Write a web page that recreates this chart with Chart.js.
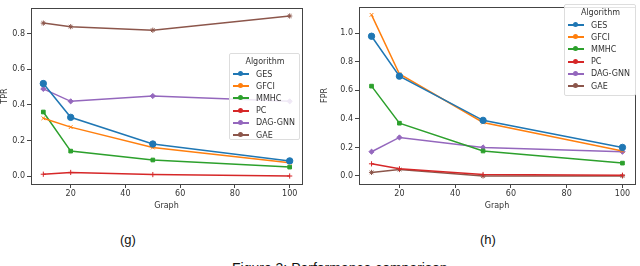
<!DOCTYPE html>
<html>
<head>
<meta charset="utf-8">
<script src="https://cdn.jsdelivr.net/npm/chart.js@4.4.0/dist/chart.umd.min.js"></script>
<style>
  body { margin: 0; width: 640px; height: 266px; background: #fff; overflow: hidden; position: relative; font-family: "DejaVu Sans", sans-serif; }
  .wrap { position: absolute; top: 0; width: 320px; height: 215px; }
  .legend { position: absolute; border: 1px solid #ddd; border-radius: 2px; background: rgba(255,255,255,0.85); font-size: 8px; color: #333; padding: 2px 2px 2px 3px; box-sizing: border-box; white-space: nowrap; }
  .legend .title { text-align: center; margin-bottom: 1px; line-height: 11px; }
  .legend .row { display: flex; align-items: center; height: 12.2px; }
  .legend .sw { position: relative; width: 16px; height: 2px; margin-right: 7px; flex: none; }
  .legend .sw i { position: absolute; left: 5px; top: -2px; width: 5px; height: 5px; border-radius: 50%; }
  .cap { position: absolute; font-family: "Liberation Sans", Arial, sans-serif; font-size: 13px; color: #111; white-space: nowrap; }
</style>
</head>
<body>
<div class="wrap" style="left:0"><canvas id="tpr"></canvas></div>
<div class="wrap" style="left:320px"><canvas id="fpr"></canvas></div>
<div class="legend" id="legTpr" style="left:229px; top:53px; width:71px; height:87px;"></div>
<div class="legend" id="legFpr" style="left:564px; top:4px; width:72px; height:92px;"></div>
<div class="cap" style="left:120px; top:232px;">(g)</div>
<div class="cap" style="left:480px; top:232px;">(h)</div>
<div class="cap" style="left:232px; top:260px; font-size:14px;">Figure 3: Performance comparison</div>
<script>
const graphs = [10, 20, 50, 100];
const algorithms = ["GES", "GFCI", "MMHC", "PC", "DAG-GNN", "GAE"];
const colors = ["#1f77b4", "#ff7f0e", "#2ca02c", "#d62728", "#9467bd", "#8c564b"];
const markers = ["circle", "crossRot", "rect", "cross", "rectRot", "star"];

// TPR (g)
const tprGES = [0.52, 0.33, 0.18, 0.085];
const tprGFCI = [0.325, 0.275, 0.16, 0.075];
const tprMMHC = [0.36, 0.14, 0.09, 0.05];
const tprPC = [0.01, 0.02, 0.008, 0.0];
const tprDAGGNN = [0.49, 0.42, 0.45, 0.42];
const tprGAE = [0.86, 0.84, 0.82, 0.90];

// FPR (h)
const fprGES = [0.98, 0.70, 0.39, 0.20];
const fprGFCI = [1.13, 0.715, 0.375, 0.175];
const fprMMHC = [0.63, 0.37, 0.175, 0.09];
const fprPC = [0.085, 0.05, 0.01, 0.005];
const fprDAGGNN = [0.17, 0.27, 0.20, 0.17];
const fprGAE = [0.025, 0.045, 0.0, 0.0];

const xTicks = [20, 40, 60, 80, 100];
const tprTicks = [0.0, 0.2, 0.4, 0.6, 0.8];
const fprTicks = [0.0, 0.2, 0.4, 0.6, 0.8, 1.0];

const frame = {
    id: "frame",
    afterDraw(chart) {
        const a = chart.chartArea;
        const ctx = chart.ctx;
        ctx.save();
        ctx.strokeStyle = "#444";
        ctx.lineWidth = 1;
        ctx.strokeRect(Math.round(a.left) + 0.5, Math.round(a.top) + 0.5, Math.round(a.right - a.left), Math.round(a.bottom - a.top));
        ctx.restore();
    },
};

function makeChart(id, series, yLabel, yMin, yMax, yTicks, pad) {
    const datasets = series.map((vals, i) => ({
        label: algorithms[i],
        data: graphs.map((g, j) => ({ x: g, y: vals[j] })),
        borderColor: colors[i],
        backgroundColor: colors[i],
        borderWidth: 1.5,
        pointStyle: markers[i],
        pointRadius: i === 0 ? 3.2 : 2.6,
        pointBorderWidth: 1,
        tension: 0,
    }));

    new Chart(document.getElementById(id), {
        type: "line",
        data: { datasets },
        plugins: [frame],
        options: {
            responsive: false,
            animation: false,
            devicePixelRatio: 1,
            layout: { padding: pad },
            plugins: { legend: { display: false }, tooltip: { enabled: false } },
            scales: {
                x: {
                    type: "linear",
                    min: 5.5,
                    max: 104.5,
                    afterBuildTicks: (s) => { s.ticks = xTicks.map((v) => ({ value: v })); },
                    afterFit: (s) => { s.height = 31; },
                    grid: { drawOnChartArea: false, tickLength: 4, color: "#444" },
                    border: { display: false },
                    ticks: { color: "#333", font: { size: 8, family: "DejaVu Sans" }, padding: 1, maxRotation: 0 },
                    title: { display: true, text: "Graph", color: "#333", font: { size: 8, family: "DejaVu Sans" }, padding: { top: 2 } },
                },
                y: {
                    min: yMin,
                    max: yMax,
                    afterBuildTicks: (s) => { s.ticks = yTicks.map((v) => ({ value: v })); },
                    afterFit: (s) => { s.width = pad.yw; },
                    grid: { drawOnChartArea: false, tickLength: 4, color: "#444" },
                    border: { display: false },
                    ticks: { color: "#333", font: { size: 8, family: "DejaVu Sans" }, padding: 2, callback: (v) => v.toFixed(1) },
                    title: { display: true, text: yLabel, color: "#333", font: { size: 8, family: "DejaVu Sans" }, padding: 0 },
                },
            },
        },
    });
}

function makeLegend(id) {
    const el = document.getElementById(id);
    let html = '<div class="title">Algorithm</div>';
    algorithms.forEach((name, i) => {
        html += '<div class="row"><span class="sw" style="background:' + colors[i] + '"><i style="background:' + colors[i] + '"></i></span>' + name + '</div>';
    });
    el.innerHTML = html;
}

document.getElementById("tpr").width = 320;
document.getElementById("tpr").height = 215;
document.getElementById("fpr").width = 320;
document.getElementById("fpr").height = 215;

makeChart("tpr", [tprGES, tprGFCI, tprMMHC, tprPC, tprDAGGNN, tprGAE], "TPR", -0.045, 0.945, tprTicks,
    { top: 8, right: 18, left: 0, bottom: 0, yw: 31 });
makeChart("fpr", [fprGES, fprGFCI, fprMMHC, fprPC, fprDAGGNN, fprGAE], "FPR", -0.0565, 1.1865, fprTicks,
    { top: 1, right: 5, left: 0, bottom: 0, yw: 39 });
makeLegend("legTpr");
makeLegend("legFpr");
</script>
</body>
</html>
